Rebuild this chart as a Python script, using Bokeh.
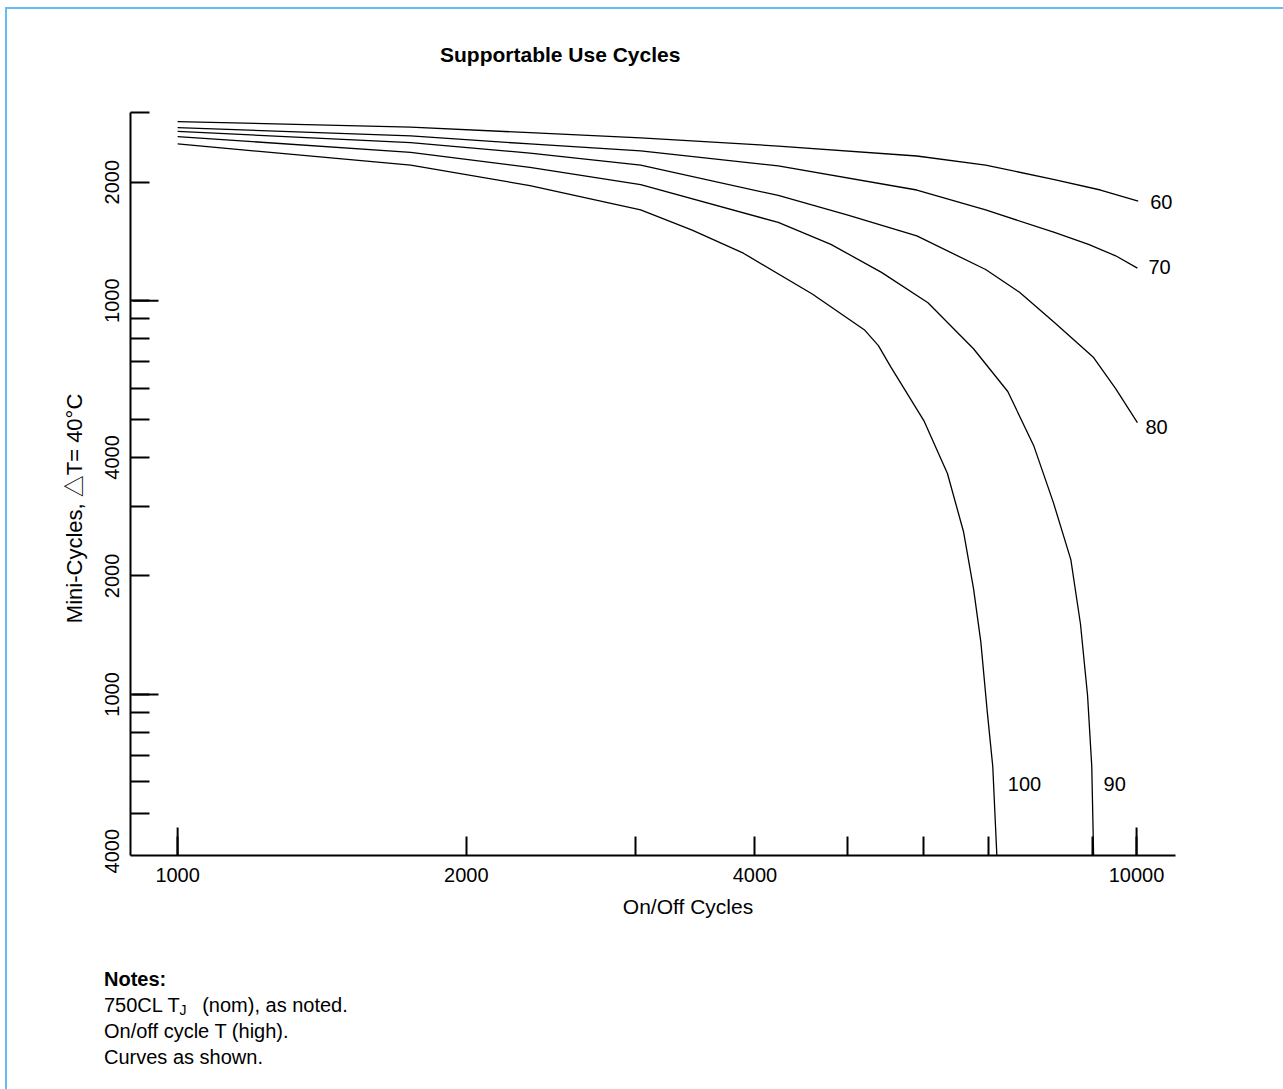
from bokeh.plotting import figure
from bokeh.models import FixedTicker, Range1d, Whisker, ColumnDataSource, Div
from bokeh.layouts import column
from bokeh.embed import file_html
from bokeh.resources import INLINE
from bokeh.core.properties import value

# ---------------- data ----------------
on_off_60 = [1000, 1750, 2330, 3040, 4230, 5900, 6960, 8210, 9170, 10040]
mini_60 = [28500, 27600, 26700, 25900, 24700, 23300, 22100, 20300, 19100, 17900]

on_off_70 = [1000, 1750, 2330, 3040, 4230, 5900, 6960, 8210, 8910, 9510, 10020]
mini_70 = [27500, 26200, 25000, 24000, 22000, 19100, 17000, 14900, 13900, 13000, 12100]

on_off_80 = [1000, 1750, 2330, 3040, 4230, 5000, 5900, 6960, 7550, 8210, 9020, 9510, 10020]
mini_80 = [26900, 25200, 23700, 22100, 18500, 16500, 14600, 12000, 10500, 8800, 7170, 5980, 4900]

on_off_90 = [1000, 1750, 2330, 3040, 4230, 4800, 5420, 6060, 6400, 6760, 7340, 7810, 8190,
             8540, 8740, 8890, 8980, 9020]
mini_90 = [26100, 23800, 21800, 19700, 15800, 13900, 11800, 9880, 8640, 7550, 5880, 4290, 3070,
           2200, 1510, 994, 657, 390]

on_off_100 = [1000, 1750, 2330, 3040, 3440, 3890, 4590, 5200, 5380, 5540, 6000, 6350, 6600,
              6760, 6880, 6990, 7080, 7150]
mini_100 = [25000, 22100, 19600, 17000, 15100, 13200, 10400, 8440, 7690, 6800, 4960, 3640, 2590,
            1860, 1360, 895, 657, 390]

curve_names = ["60", "70", "80", "90", "100"]

x_tick_marks = [1000, 2000, 3000, 4000, 5000, 6000, 7000, 9000, 10000]
x_tick_labeled = [1000, 2000, 4000, 10000]
x_tick_text = ["1000", "2000", "4000", "10000"]
x_long_ticks = [1000, 10000]

y_tick_marks = [500, 600, 700, 800, 900, 1000, 2000, 3000, 4000, 5000, 6000,
                7000, 8000, 9000, 10000, 20000, 30000]
y_tick_labeled = [400, 1000, 2000, 4000, 10000, 20000]
y_tick_text = ["4000", "1000", "2000", "4000", "1000", "2000"]
y_long_ticks = [1000, 10000]

title_text = "Supportable Use Cycles"
x_title = "On/Off Cycles"
y_title = "Mini-Cycles, \u25b3T= 40\u00b0C"

# ---------------- styling ----------------
FONT = "Liberation Sans"
BLUE = "#66bbf5"
NBSP = "\u00a0"

title_div = Div(
    text=("<div style=\"font-family:'Liberation Sans';font-size:21px;font-weight:bold;"
          "line-height:26px;color:black;padding-left:433px;padding-top:33px;margin:0;\">"
          + title_text + "</div>"),
    width=1276, height=80, margin=0,
)

p = figure(
    width=1276, height=851,
    x_axis_type="log", y_axis_type="log",
    x_range=Range1d(893, 10980), y_range=Range1d(390, 30050),
    output_backend="svg", toolbar_location=None,
    min_border_left=123, min_border_right=108,
    min_border_top=23, min_border_bottom=85,
    margin=0,
)
p.outline_line_color = None
p.xgrid.grid_line_color = None
p.ygrid.grid_line_color = None

# x axis
xa = p.xaxis[0]
xa.ticker = FixedTicker(ticks=x_tick_labeled, minor_ticks=x_tick_marks)
xa.major_label_overrides = dict(zip(x_tick_labeled, x_tick_text))
xa.major_tick_in = 0
xa.major_tick_out = 0
xa.minor_tick_in = 19
xa.minor_tick_out = 0
xa.minor_tick_line_width = 2
xa.minor_tick_line_color = "black"
xa.axis_line_width = 2
xa.axis_line_color = "black"
xa.major_label_text_font = FONT
xa.major_label_text_font_size = "20px"
xa.major_label_text_color = "black"
xa.major_label_standoff = 12
# the reference's axis title sits right of the frame centre
xa.axis_label = NBSP * 12 + x_title
xa.axis_label_text_font = FONT
xa.axis_label_text_font_size = "21px"
xa.axis_label_text_font_style = "normal"
xa.axis_label_text_color = "black"
xa.axis_label_standoff = 10

# y axis
ya = p.yaxis[0]
ya.ticker = FixedTicker(ticks=y_tick_labeled, minor_ticks=y_tick_marks)
ya.major_label_overrides = dict(zip(y_tick_labeled, y_tick_text))
ya.major_label_orientation = "vertical"
ya.major_tick_in = 0
ya.major_tick_out = 0
ya.minor_tick_in = 19
ya.minor_tick_out = 0
ya.minor_tick_line_width = 2
ya.minor_tick_line_color = "black"
ya.axis_line_width = 2
ya.axis_line_color = "black"
ya.major_label_text_font = FONT
ya.major_label_text_font_size = "20px"
ya.major_label_text_color = "black"
ya.major_label_standoff = 11
# the reference's axis title sits below the frame centre
ya.axis_label = y_title + NBSP * 8
ya.axis_label_text_font = "Liberation Sans, Noto Sans CJK JP"
ya.axis_label_text_font_size = "22px"
ya.axis_label_text_font_style = "normal"
ya.axis_label_text_color = "black"
ya.axis_label_standoff = 16

# longer ticks at the decades
p.add_layout(Whisker(source=ColumnDataSource(dict(base=y_long_ticks)), base="base",
                     lower=2, upper=28, lower_units="screen", upper_units="screen",
                     dimension="width", lower_head=None, upper_head=None,
                     line_width=2, line_color="black"))
p.add_layout(Whisker(source=ColumnDataSource(dict(base=x_long_ticks)), base="base",
                     lower=0, upper=28, lower_units="screen", upper_units="screen",
                     dimension="height", lower_head=None, upper_head=None,
                     line_width=2, line_color="black"))

# curves
series = [(on_off_60, mini_60), (on_off_70, mini_70), (on_off_80, mini_80),
          (on_off_90, mini_90), (on_off_100, mini_100)]
for xs, ys in series:
    p.line(xs, ys, line_color="black", line_width=1.3)

# curve labels next to the curve ends
lab_dx = [12, 11, 8, 10, 11]
lab_dy = [1, -1, 4, -72, -72]
p.text(x=[s[0][-1] for s in series], y=[s[1][-1] for s in series], text=curve_names,
       x_offset=lab_dx, y_offset=lab_dy, text_align="left", text_baseline="middle",
       text_font=value(FONT), text_font_size="20px", text_color="black")

# notes
notes_html = (
    "<div style=\"font-family:'Liberation Sans';font-size:20px;line-height:26px;"
    "color:black;padding-left:97px;padding-top:26px;margin:0;\">"
    "<b>Notes:</b><br>"
    "750CL T<span style=\"font-size:14px;line-height:0;position:relative;top:3px;"
    "margin-right:10px;\">J</span>"
    " (nom), as noted.<br>"
    "On/off cycle T (high).<br>"
    "Curves as shown."
    "</div>"
)
notes = Div(text=notes_html, width=1276, height=149, margin=0)

inner = column(title_div, p, notes, styles={"background-color": "white"}, margin=(2, 0, 0, 2))
layout = column(inner, styles={"background-color": BLUE}, margin=(7, 0, 0, 5))

open("out.html", "w").write(file_html(layout, INLINE))
